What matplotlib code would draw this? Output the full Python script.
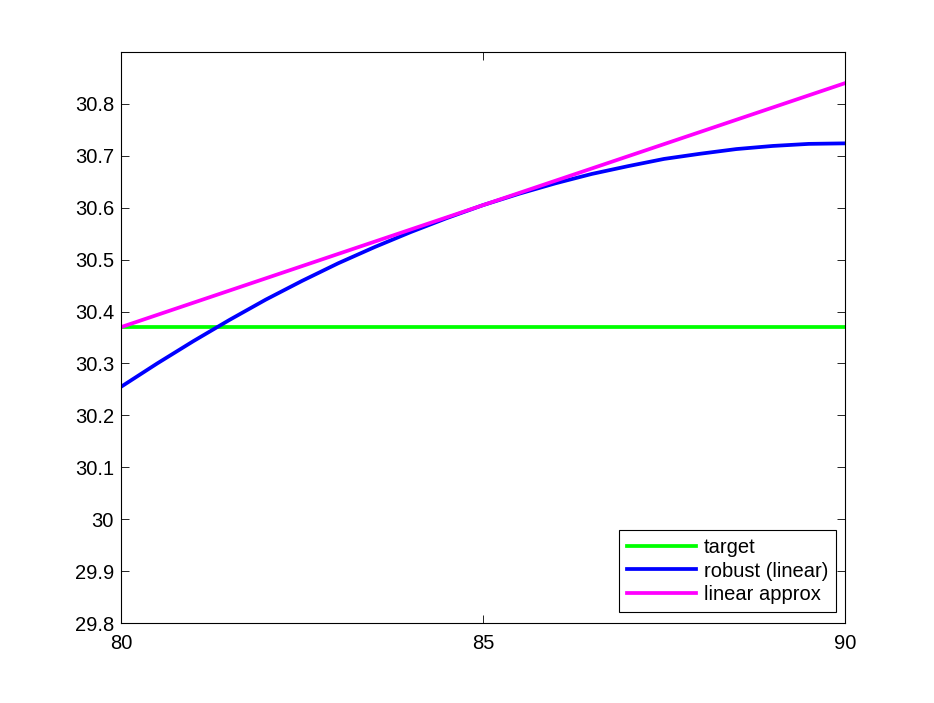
import matplotlib
matplotlib.use('Agg')
import matplotlib.pyplot as plt
import numpy as np

plt.rcParams['font.family'] = ['Liberation Sans', 'DejaVu Sans']

x = [80, 80.5, 81, 81.5, 82, 82.5, 83, 83.5, 84, 84.5, 85,
     85.5, 86, 86.5, 87, 87.5, 88, 88.5, 89, 89.5, 90]
robust = [30.255, 30.300, 30.343, 30.384, 30.423, 30.459, 30.493, 30.524, 30.553, 30.580, 30.605,
          30.627, 30.647, 30.665, 30.680, 30.694, 30.704, 30.713, 30.719, 30.723, 30.724]
target_x = [80, 90]
target = [30.37, 30.37]
approx_x = [80, 90]
approx = [30.37, 30.84]

labels = ['target', 'robust (linear)', 'linear approx']


def main():
    fig = plt.figure(figsize=(9.34, 7.03), dpi=100)
    ax = fig.add_axes([121 / 934, 80 / 703, 724 / 934, 571 / 703])

    ax.plot(target_x, target, color=(0, 1, 0), lw=2.7, label=labels[0])
    ax.plot(x, robust, color=(0, 0, 1), lw=2.7, label=labels[1])
    ax.plot(approx_x, approx, color=(1, 0, 1), lw=2.7, label=labels[2])

    ax.set_xlim(80, 90)
    ax.set_ylim(29.8, 30.9)
    ax.set_xticks([80, 85, 90])
    ax.set_xticklabels(['80', '85', '90'])
    yt = np.round(np.arange(29.8, 30.85, 0.1), 1)
    ax.set_yticks(yt)
    ax.set_yticklabels(['%g' % v for v in yt])
    ax.tick_params(direction='in', top=True, right=True, length=6,
                   width=0.6, labelsize=14.5, pad=5)
    ax.tick_params(axis='x', pad=8)
    for s in ax.spines.values():
        s.set_linewidth(0.8)

    leg = ax.legend(loc='lower right', bbox_to_anchor=(836 / 934, 91 / 703),
                    bbox_transform=fig.transFigure, fontsize=14.5,
                    fancybox=False, framealpha=1, edgecolor='black',
                    handlelength=3.4, handletextpad=0.4, labelspacing=0.22,
                    borderpad=0.4, borderaxespad=0)
    leg.get_frame().set_linewidth(0.8)

    fig.savefig('out.png', dpi=100, facecolor='white')


if __name__ == '__main__':
    main()
